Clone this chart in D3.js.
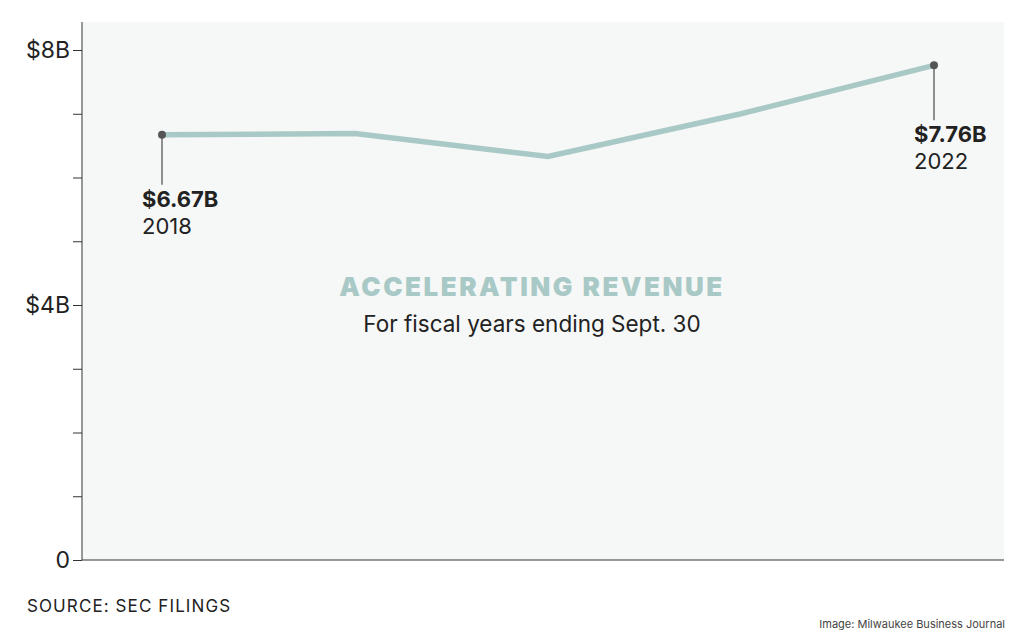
<!DOCTYPE html>
<html><head><meta charset="utf-8">
<script src="https://cdn.jsdelivr.net/npm/d3@7"></script>
<style>body{margin:0;background:#fff}svg{display:block}text{font-family:Inter,"Noto Sans",sans-serif}</style>
</head><body><svg id="c" width="1024" height="634"></svg>
<script>
const years = [2018, 2019, 2020, 2021, 2022];
const revenue = [6.67, 6.69, 6.33, 7.00, 7.76];
const yTicks = [0,1,2,3,4,5,6,7,8];
const yLabels = {0:"0",4:"$4B",8:"$8B"};
const title = "ACCELERATING REVENUE";
const subtitle = "For fiscal years ending Sept. 30";
const source = "SOURCE: SEC FILINGS";
const credit = "Image: Milwaukee Business Journal";

const svg = d3.select("#c");
const L=82, R=1004, T=22, B=560;
const x = d3.scaleLinear().domain([2018,2022]).range([162,934]);
const y = d3.scaleLinear().domain([0,8]).range([B,50]);

svg.append("rect").attr("x",L).attr("y",T).attr("width",R-L).attr("height",B-T).attr("fill","#f6f8f7");

const ax = svg.append("g").attr("transform",`translate(${L},0)`)
  .call(d3.axisLeft(y).tickValues(yTicks).tickSize(9).tickFormat(d=>yLabels[d]||""));
ax.select(".domain").attr("d",`M0,${T}V${B}`).attr("stroke","#333");
ax.selectAll(".tick line").attr("stroke","#333");
ax.selectAll(".tick text").attr("font-size",23).attr("fill","#222").attr("x",-12).attr("dy","0.34em");
svg.append("line").attr("x1",L).attr("x2",R).attr("y1",B).attr("y2",B).attr("stroke","#333");

const data = years.map((yr,i)=>({yr,v:revenue[i]}));
svg.append("path").datum(data).attr("fill","none").attr("stroke","#a9c9c6").attr("stroke-width",5.5)
  .attr("d",d3.line().x(d=>x(d.yr)).y(d=>y(d.v)));

const ends = [{d:data[0],len:50},{d:data[4],len:55}];
ends.forEach(e=>{
  const cx=x(e.d.yr), cy=y(e.d.v);
  svg.append("line").attr("x1",cx).attr("x2",cx).attr("y1",cy).attr("y2",cy+e.len).attr("stroke","#555").attr("stroke-width",1.3);
  svg.append("circle").attr("cx",cx).attr("cy",cy).attr("r",4).attr("fill","#555");
  svg.append("text").attr("x",cx-20).attr("y",cy+e.len+22).attr("font-size",22).attr("font-weight",700).attr("fill","#222").text("$"+e.d.v.toFixed(2)+"B");
  svg.append("text").attr("x",cx-20).attr("y",cy+e.len+49).attr("font-size",22).attr("fill","#222").text(e.d.yr);
});

svg.append("text").attr("x",532).attr("y",296).attr("text-anchor","middle").attr("font-size",26).attr("font-weight",900)
  .attr("letter-spacing",2.5).attr("fill","#a9c9c6").text(title);
svg.append("text").attr("x",532).attr("y",332).attr("text-anchor","middle").attr("font-size",22.5).attr("fill","#222").text(subtitle);
svg.append("text").attr("x",27).attr("y",612).attr("font-size",17).attr("letter-spacing",1.1).attr("fill","#222").text(source);
svg.append("text").attr("x",1005).attr("y",628).attr("text-anchor","end").attr("font-size",11).attr("fill","#444").text(credit);
</script></body></html>
